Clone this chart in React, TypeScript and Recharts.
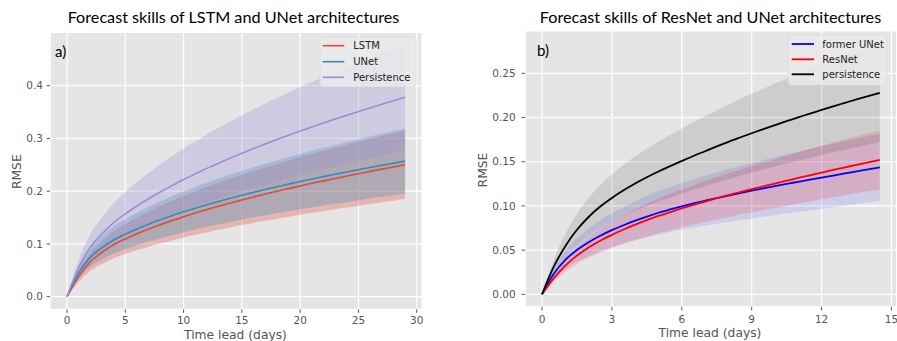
import React from 'react';
import { ComposedChart, Line, Area, XAxis, YAxis, CartesianGrid } from 'recharts';

// ---------- Panel a) : LSTM vs UNet (daily lead times) ----------
const days = [0, 1, 2, 3, 4, 5, 6, 7, 8, 9, 10, 11, 12, 13, 14, 15, 16, 17, 18, 19, 20, 21, 22, 23, 24, 25, 26, 27, 28, 29];
const lstmMean = [0, 0.038, 0.066, 0.084, 0.0985, 0.1094, 0.1193, 0.1282, 0.1365, 0.1442, 0.1516, 0.1586, 0.1652, 0.1715, 0.1776, 0.1834, 0.1891, 0.1945, 0.1998, 0.2049, 0.21, 0.2149, 0.2196, 0.2242, 0.2287, 0.2332, 0.2375, 0.2418, 0.2459, 0.25];
const lstmStd = [0, 0.01, 0.017, 0.022, 0.0256, 0.0284, 0.031, 0.0333, 0.0355, 0.0375, 0.0394, 0.0412, 0.043, 0.0446, 0.0462, 0.0477, 0.0492, 0.0506, 0.0519, 0.0533, 0.0546, 0.0559, 0.0571, 0.0583, 0.0595, 0.0606, 0.0618, 0.0629, 0.0639, 0.065];
const unetMean = [0, 0.045, 0.075, 0.093, 0.1075, 0.1186, 0.1285, 0.1375, 0.1458, 0.1536, 0.1609, 0.1678, 0.1743, 0.1806, 0.1866, 0.1923, 0.1979, 0.2032, 0.2083, 0.2134, 0.2183, 0.2231, 0.2276, 0.232, 0.2365, 0.2408, 0.2449, 0.2491, 0.2531, 0.257];
const unetStd = [0, 0.011, 0.018, 0.022, 0.0258, 0.0285, 0.0308, 0.033, 0.035, 0.0369, 0.0386, 0.0403, 0.0418, 0.0433, 0.0448, 0.0462, 0.0475, 0.0488, 0.05, 0.0512, 0.0524, 0.0535, 0.0546, 0.0557, 0.0568, 0.0578, 0.0588, 0.0598, 0.0607, 0.0617];
const persMean = [0, 0.055, 0.094, 0.119, 0.1404, 0.157, 0.1719, 0.1857, 0.1985, 0.2106, 0.222, 0.2328, 0.2432, 0.2531, 0.2627, 0.2719, 0.2808, 0.2894, 0.2978, 0.306, 0.3139, 0.3217, 0.3292, 0.3367, 0.3439, 0.351, 0.3579, 0.3648, 0.3715, 0.378];
const persStd = [0, 0.015, 0.025, 0.031, 0.0372, 0.0416, 0.0456, 0.0492, 0.0526, 0.0558, 0.0588, 0.0617, 0.0644, 0.0671, 0.0696, 0.0721, 0.0744, 0.0767, 0.0789, 0.0811, 0.0832, 0.0852, 0.0872, 0.0892, 0.0911, 0.093, 0.0948, 0.0967, 0.0984, 0.1002];
const leftXTicks = [0, 5, 10, 15, 20, 25, 30];
const leftYTicks = [0, 0.1, 0.2, 0.3, 0.4];

// ---------- Panel b) : ResNet vs former UNet (half-day lead times) ----------
const leads = [0, 0.5, 1, 1.5, 2, 2.5, 3, 3.5, 4, 4.5, 5, 5.5, 6, 6.5, 7, 7.5, 8, 8.5, 9, 9.5, 10, 10.5, 11, 11.5, 12, 12.5, 13, 13.5, 14, 14.5];
const formerUnetMean = [0, 0.023, 0.039, 0.0502, 0.059, 0.0663, 0.0726, 0.0782, 0.0833, 0.088, 0.0923, 0.096, 0.0995, 0.1028, 0.1059, 0.1089, 0.1118, 0.1146, 0.1173, 0.1199, 0.1224, 0.1249, 0.1273, 0.1297, 0.132, 0.1344, 0.1368, 0.1391, 0.1414, 0.1436];
const formerUnetStd = [0, 0.0061, 0.0103, 0.0133, 0.0156, 0.0176, 0.0192, 0.0207, 0.0221, 0.0233, 0.0245, 0.0255, 0.0265, 0.0274, 0.0283, 0.0291, 0.0299, 0.0307, 0.0314, 0.0321, 0.0328, 0.0335, 0.0341, 0.0347, 0.0354, 0.0359, 0.0365, 0.037, 0.0375, 0.0381];
const resnetMean = [0, 0.018, 0.0325, 0.0438, 0.053, 0.0607, 0.0673, 0.0733, 0.0788, 0.0839, 0.0887, 0.093, 0.0972, 0.1012, 0.105, 0.1087, 0.1122, 0.1156, 0.1189, 0.1221, 0.1253, 0.1285, 0.1317, 0.1347, 0.1378, 0.1407, 0.1436, 0.1465, 0.1493, 0.152];
const resnetStd = [0, 0.004, 0.0072, 0.0096, 0.0117, 0.0134, 0.0148, 0.0161, 0.0173, 0.0185, 0.0195, 0.0205, 0.0214, 0.0223, 0.0231, 0.0239, 0.0247, 0.0254, 0.0262, 0.0269, 0.0276, 0.0283, 0.029, 0.0296, 0.0303, 0.031, 0.0316, 0.0322, 0.0328, 0.0334];
const persistence2Mean = [0, 0.031, 0.0545, 0.073, 0.0875, 0.0993, 0.1091, 0.1177, 0.1254, 0.1324, 0.1389, 0.145, 0.1508, 0.1565, 0.1619, 0.1673, 0.1725, 0.1774, 0.1822, 0.1869, 0.1915, 0.196, 0.2003, 0.2044, 0.2086, 0.2127, 0.2166, 0.2205, 0.2243, 0.228];
const persistence2Std = [0, 0.0076, 0.0134, 0.0179, 0.0214, 0.0243, 0.0267, 0.0288, 0.0307, 0.0324, 0.034, 0.0355, 0.0369, 0.0383, 0.0397, 0.041, 0.0423, 0.0435, 0.0446, 0.0458, 0.0469, 0.048, 0.0491, 0.0501, 0.0511, 0.0521, 0.0531, 0.054, 0.055, 0.0559];
const rightXTicks = [0, 3, 6, 9, 12, 15];
const rightYTicks = [0, 0.05, 0.1, 0.15, 0.2, 0.25];

const band = (m: number, s: number) => [m - s, m + s];

const leftRows = days.map((t, i) => ({
  t,
  lstm: lstmMean[i],
  unet: unetMean[i],
  pers: persMean[i],
  lstmBand: band(lstmMean[i], lstmStd[i]),
  unetBand: band(unetMean[i], unetStd[i]),
  persBand: band(persMean[i], persStd[i]),
}));

const rightRows = leads.map((t, i) => ({
  t,
  unet: formerUnetMean[i],
  resnet: resnetMean[i],
  pers: persistence2Mean[i],
  unetBand: band(formerUnetMean[i], formerUnetStd[i]),
  resnetBand: band(resnetMean[i], resnetStd[i]),
  persBand: band(persistence2Mean[i], persistence2Std[i]),
}));

const TICK = { fill: '#555555', fontSize: 10.5, fontFamily: 'DejaVu Sans' };
const LABEL_FONT = 'DejaVu Sans';
const TITLE_FONT = 'Lato, "Open Sans", sans-serif';

type LegendItem = { label: string; color: string };

function LegendBox(props: {
  x: number; y: number; w: number; h: number;
  lineX0: number; lineX1: number; textX: number; rows: number[];
  items: LegendItem[]; lineWidth: number;
}) {
  const { x, y, w, h, lineX0, lineX1, textX, rows, items, lineWidth } = props;
  return (
    <g>
      <rect x={x} y={y} width={w} height={h} rx={3} ry={3} fill="#EAEAEA" fillOpacity={0.85} stroke="#DADADA" strokeWidth={0.8} />
      {items.map((it, i) => (
        <g key={it.label}>
          <line x1={lineX0} x2={lineX1} y1={rows[i]} y2={rows[i]} stroke={it.color} strokeWidth={lineWidth} />
          <text x={textX} y={rows[i]} dominantBaseline="central" fontFamily={LABEL_FONT} fontSize={10} fill="#222">
            {it.label}
          </text>
        </g>
      ))}
    </g>
  );
}

export default function App() {
  return (
    <div style={{ position: 'absolute', left: 0, top: 0, width: 897, height: 341, background: '#fff', overflow: 'hidden' }}>
      {/* Left chart */}
      <div style={{ position: 'absolute', left: 0, top: 0 }}>
        <ComposedChart width={440} height={341} data={leftRows} margin={{ top: 32.4, right: 18, bottom: 0, left: 0 }}>
          <CartesianGrid fill="#E5E5E5" fillOpacity={1} stroke="#FFFFFF" strokeWidth={1.2} />
          <XAxis
            dataKey="t" type="number" domain={[-1.45, 30.45]} ticks={leftXTicks} allowDataOverflow
            height={31.7} axisLine={false} tickLine={{ stroke: '#555' }} tickSize={3.5} tickMargin={4} tick={TICK} interval={0}
          />
          <YAxis
            type="number" domain={[-0.0239, 0.501]} ticks={leftYTicks} allowDataOverflow
            width={50.1} axisLine={false} tickLine={{ stroke: '#555' }} tickSize={3.5} tickMargin={3.6} tick={TICK}
            tickFormatter={(v: number) => v.toFixed(1)} interval={0}
          />
          <Area dataKey="lstmBand" type="monotone" stroke="none" fill="#E24A33" fillOpacity={0.3} isAnimationActive={false} />
          <Area dataKey="unetBand" type="monotone" stroke="none" fill="#348ABD" fillOpacity={0.3} isAnimationActive={false} />
          <Area dataKey="persBand" type="monotone" stroke="none" fill="#988ED5" fillOpacity={0.3} isAnimationActive={false} />
          <Line dataKey="lstm" type="monotone" stroke="#E24A33" strokeWidth={1.6} dot={false} isAnimationActive={false} />
          <Line dataKey="unet" type="monotone" stroke="#348ABD" strokeWidth={1.6} dot={false} isAnimationActive={false} />
          <Line dataKey="pers" type="monotone" stroke="#988ED5" strokeWidth={1.6} dot={false} isAnimationActive={false} />
        </ComposedChart>
      </div>

      {/* Right chart */}
      <div style={{ position: 'absolute', left: 440, top: 0 }}>
        <ComposedChart width={457} height={341} data={rightRows} margin={{ top: 30.9, right: 0.3, bottom: 0, left: 0 }}>
          <CartesianGrid fill="#E5E5E5" fillOpacity={1} stroke="#FFFFFF" strokeWidth={1.2} />
          <XAxis
            dataKey="t" type="number" domain={[-0.725, 15.225]} ticks={rightXTicks} allowDataOverflow
            height={34.1} axisLine={false} tickLine={{ stroke: '#555' }} tickSize={3.5} tickMargin={5} tick={TICK} interval={0}
          />
          <YAxis
            type="number" domain={[-0.0142, 0.298]} ticks={rightYTicks} allowDataOverflow
            width={85.1} axisLine={false} tickLine={{ stroke: '#555' }} tickSize={3.5} tickMargin={5.9} tick={TICK}
            tickFormatter={(v: number) => v.toFixed(2)} interval={0}
          />
          <Area dataKey="unetBand" type="monotone" stroke="none" fill="#0000FF" fillOpacity={0.1} isAnimationActive={false} />
          <Area dataKey="resnetBand" type="monotone" stroke="none" fill="#FF0000" fillOpacity={0.15} isAnimationActive={false} />
          <Area dataKey="persBand" type="monotone" stroke="none" fill="#000000" fillOpacity={0.1} isAnimationActive={false} />
          <Line dataKey="unet" type="monotone" stroke="#0000FF" strokeWidth={1.8} dot={false} isAnimationActive={false} />
          <Line dataKey="resnet" type="monotone" stroke="#FF0000" strokeWidth={1.8} dot={false} isAnimationActive={false} />
          <Line dataKey="pers" type="monotone" stroke="#000000" strokeWidth={1.8} dot={false} isAnimationActive={false} />
        </ComposedChart>
      </div>

      {/* Annotations: titles, axis labels, panel letters, legends */}
      <svg width={897} height={341} style={{ position: 'absolute', left: 0, top: 0, pointerEvents: 'none' }}>
        <text x={233.5} y={16} textAnchor="middle" dominantBaseline="central" fontFamily={TITLE_FONT} fontSize={16.2} fill="#000">
          Forecast skills of LSTM and UNet architectures
        </text>
        <text x={710.5} y={16} textAnchor="middle" dominantBaseline="central" fontFamily={TITLE_FONT} fontSize={16.2} fill="#000">
          Forecast skills of ResNet and UNet architectures
        </text>
        <text x={55} y={50.7} dominantBaseline="central" fontFamily={TITLE_FONT} fontSize={15} fill="#000">a)</text>
        <text x={537} y={50} dominantBaseline="central" fontFamily={TITLE_FONT} fontSize={15} fill="#000">b)</text>

        <text x={17} y={171.7} transform="rotate(-90 17 171.7)" textAnchor="middle" dominantBaseline="central" fontFamily={LABEL_FONT} fontSize={12.3} fill="#555">RMSE</text>
        <text x={483} y={170} transform="rotate(-90 483 170)" textAnchor="middle" dominantBaseline="central" fontFamily={LABEL_FONT} fontSize={12.3} fill="#555">RMSE</text>
        <text x={235.5} y={335} textAnchor="middle" dominantBaseline="central" fontFamily={LABEL_FONT} fontSize={12.3} fill="#555">Time lead (days)</text>
        <text x={710} y={333.3} textAnchor="middle" dominantBaseline="central" fontFamily={LABEL_FONT} fontSize={12.3} fill="#555">Time lead (days)</text>

        <LegendBox
          x={320} y={37.3} w={96} h={49.4} lineX0={322.7} lineX1={344.3} textX={353.3} rows={[45.7, 61.7, 77.3]} lineWidth={1.6}
          items={[{ label: 'LSTM', color: '#E24A33' }, { label: 'UNet', color: '#348ABD' }, { label: 'Persistence', color: '#988ED5' }]}
        />
        <LegendBox
          x={788.3} y={35} w={98.4} h={50} lineX0={791.7} lineX1={814} textX={822.3} rows={[44, 59.3, 74.3]} lineWidth={1.8}
          items={[{ label: 'former UNet', color: '#0000FF' }, { label: 'ResNet', color: '#FF0000' }, { label: 'persistence', color: '#000000' }]}
        />
      </svg>
    </div>
  );
}
